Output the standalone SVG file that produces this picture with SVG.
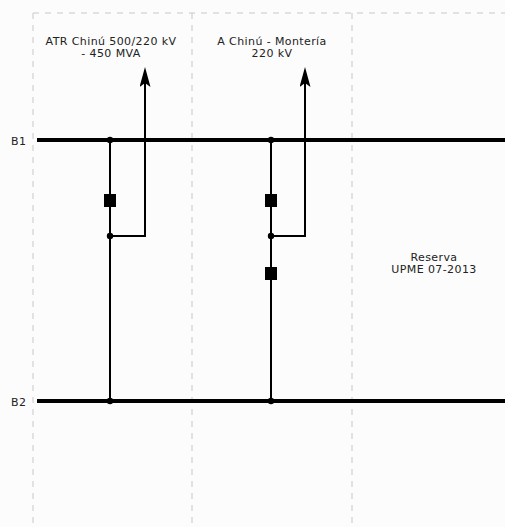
<svg xmlns="http://www.w3.org/2000/svg" width="505" height="527" viewBox="0 0 505 527">
<style>
.grid{stroke:#c8c8c8;stroke-width:1;stroke-dasharray:6 6;fill:none}
.bus{stroke:#000;stroke-width:4;fill:none}
.w{stroke:#000;stroke-width:2;fill:none}
.t{font-family:"DejaVu Sans",sans-serif;font-size:11px;letter-spacing:0.4px;fill:#222}
.dot{fill:#000}
.brk{fill:#000}
</style>
<defs>
<marker id="arr" viewBox="0 0 20 11" refX="4" refY="5.5" markerWidth="20" markerHeight="11" markerUnits="userSpaceOnUse" orient="auto">
<path d="M0 0 L20 5.5 L0 11 L4 5.5 Z" fill="#000"/>
</marker>
</defs>
<rect width="505" height="527" fill="#fcfcfc"/>
<g id="grid">
<path class="grid" d="M33 13 H505"/>
<path class="grid" d="M33 13 V527"/>
<path class="grid" d="M192 13 V527"/>
<path class="grid" d="M352 13 V527"/>
</g>
<g id="B1"><path class="bus" d="M37 140 H505"/><text class="t" x="11" y="145">B1</text></g>
<g id="B2"><path class="bus" d="M37 401 H505"/><text class="t" x="11" y="406">B2</text></g>
<g id="connectors">
<path class="w" d="M110 140 V401"/>
<path class="w" d="M110 236 H145 V83" marker-end="url(#arr)"/>
<path class="w" d="M271 140 V401"/>
<path class="w" d="M271 236 H305 V83" marker-end="url(#arr)"/>
</g>
<g id="bay1">
<circle class="dot" cx="110" cy="140" r="3.2"/>
<rect class="brk" x="104" y="194" width="12" height="13"/>
<circle class="dot" cx="110" cy="236" r="3.2"/>
<circle class="dot" cx="110" cy="401" r="3.2"/>
<text class="t" text-anchor="middle" x="111" y="45">ATR Chinú 500/220 kV</text>
<text class="t" text-anchor="middle" x="111" y="57">- 450 MVA</text>
</g>
<g id="bay2">
<circle class="dot" cx="271" cy="140" r="3.2"/>
<rect class="brk" x="265" y="194" width="12" height="13"/>
<circle class="dot" cx="271" cy="236" r="3.2"/>
<rect class="brk" x="265" y="267" width="12" height="13"/>
<circle class="dot" cx="271" cy="401" r="3.2"/>
<text class="t" text-anchor="middle" x="272" y="45">A Chinú - Montería</text>
<text class="t" text-anchor="middle" x="272" y="57">220 kV</text>
</g>
<g id="reserva">
<text class="t" text-anchor="middle" x="434" y="261">Reserva</text>
<text class="t" text-anchor="middle" x="434" y="273">UPME 07-2013</text>
</g>
</svg>
